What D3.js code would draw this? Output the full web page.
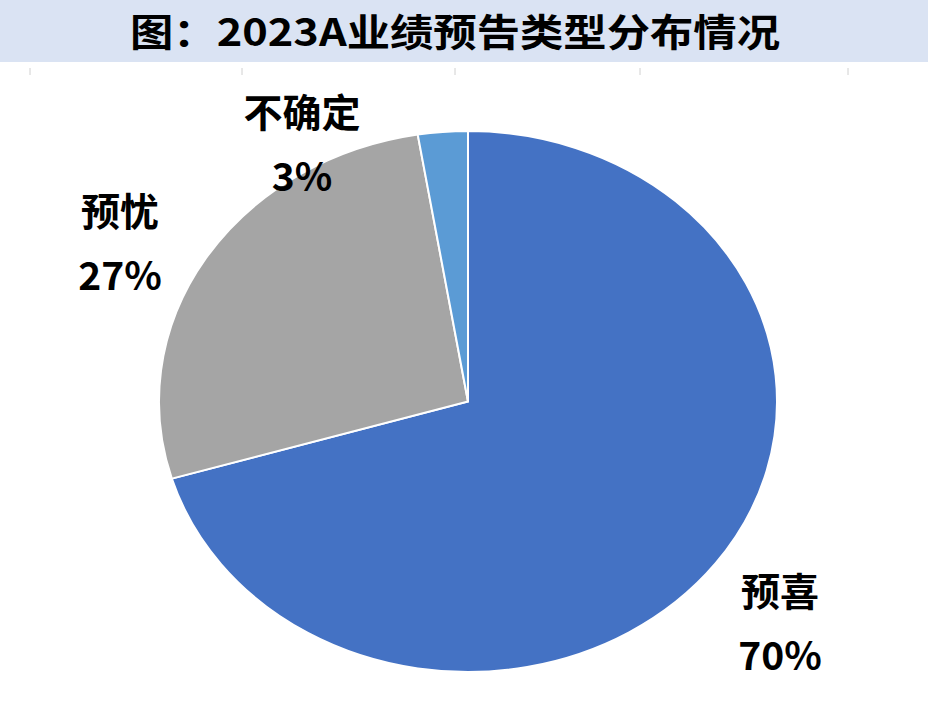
<!DOCTYPE html>
<html><head><meta charset="utf-8">
<script src="https://cdn.jsdelivr.net/npm/d3@7"></script>
<style>body{margin:0;background:#fff}text{font-family:"Noto Sans CJK SC","Noto Sans",sans-serif;font-weight:bold}</style>
</head><body><div id="chart"></div>
<script>
const categories = ['预喜', '预忧', '不确定']
const values = [70.4, 27.0, 2.6]
const pctLabels = ['70%', '27%', '3%']
const colors = ['#4472C4', '#A5A5A5', '#5B9BD5']
const labelPos = [[780, 592], [120, 212], [302, 113]]

const width = 928, height = 720
const cx = 468, cy = 401.5, r = 309, ry = 270.5

const svg = d3.select('#chart').append('svg').attr('width', width).attr('height', height)

svg.append('rect').attr('x', 0).attr('y', 0).attr('width', width).attr('height', 62).attr('fill', '#DAE3F3')
svg.append('text').text('图：2023A业绩预告类型分布情况')
  .attr('x', 130).attr('y', 46).attr('textLength', 650).attr('lengthAdjust', 'spacingAndGlyphs')
  .style('font-size', '38px').attr('fill', '#000')

const ticks = [30, 242, 455, 640, 848]
svg.selectAll('line.tick').data(ticks).join('line')
  .attr('x1', d => d).attr('x2', d => d).attr('y1', 68).attr('y2', 75)
  .attr('stroke', '#d0d0d0')

const pie = d3.pie().sort(null).value(d => d)
const arc = d3.arc().innerRadius(0).outerRadius(r)
const g = svg.append('g').attr('transform', `translate(${cx},${cy}) scale(1,${ry / r})`)
g.selectAll('path').data(pie(values)).join('path')
  .attr('d', arc).attr('fill', (d, i) => colors[i])
  .attr('stroke', '#fff').attr('stroke-width', 2).attr('vector-effect', 'non-scaling-stroke')

categories.forEach((c, i) => {
  const [x, y] = labelPos[i]
  svg.append('text').text(c).attr('x', x).attr('y', y + 14).attr('text-anchor', 'middle').style('font-size', '39px')
  svg.append('text').text(pctLabels[i]).attr('x', x).attr('y', y + 78).attr('text-anchor', 'middle').style('font-size', '39px')
})
</script></body></html>
